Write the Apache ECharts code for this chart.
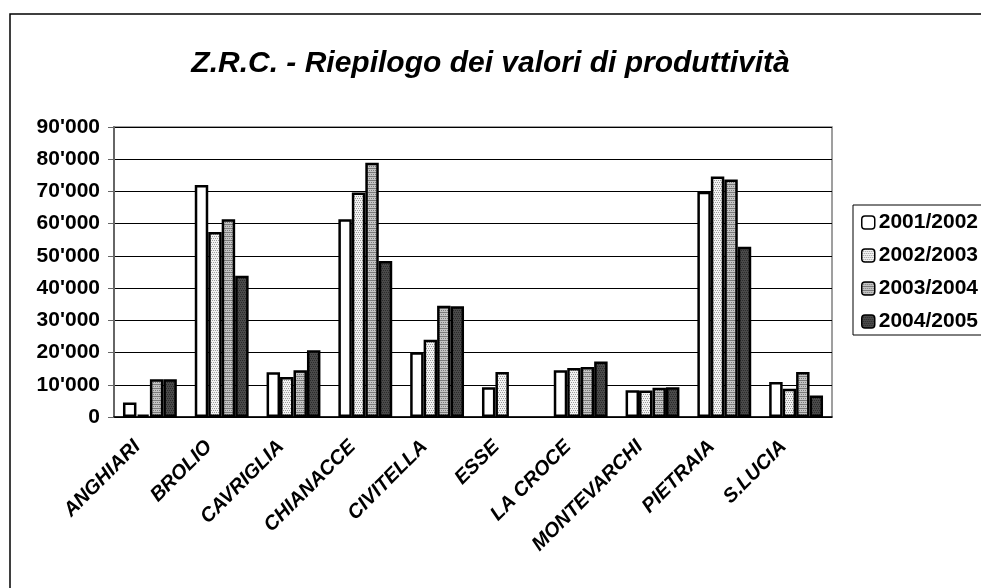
<!DOCTYPE html>
<html>
<head>
<meta charset="utf-8">
<script src="https://cdn.jsdelivr.net/npm/echarts@6/dist/echarts.min.js"></script>
<style>
  html, body { margin: 0; padding: 0; background: #fff; }
  #chart { width: 981px; height: 588px; }
</style>
</head>
<body>
<div id="chart"></div>
<script>
// data
var categories = ['ANGHIARI', 'BROLIO', 'CAVRIGLIA', 'CHIANACCE', 'CIVITELLA', 'ESSE', 'LA CROCE', 'MONTEVARCHI', 'PIETRAIA', 'S.LUCIA'];
var seriesNames = ['2001/2002', '2002/2003', '2003/2004', '2004/2005'];
var v2001 = [4500, 72000, 13900, 61400, 20100, 9200, 14500, 8300, 69900, 10900];
var v2002 = [700, 57400, 12400, 69700, 24000, 14000, 15200, 8200, 74600, 8800];
var v2003 = [11700, 61400, 14500, 78900, 34500, null, 15500, 9100, 73700, 14000];
var v2004 = [11700, 43800, 20700, 48400, 34400, null, 17200, 9200, 52800, 6700];
var yTicks = { min: 0, max: 90000, step: 10000 };

var font = 'Liberation Sans, Arial, sans-serif';

// little canvas patterns, like the excel fills
function pattern(bg, dot, cells) {
    var c = document.createElement('canvas');
    c.width = 4; c.height = 4;
    var ctx = c.getContext('2d');
    ctx.fillStyle = bg;
    ctx.fillRect(0, 0, 4, 4);
    ctx.fillStyle = dot;
    cells.forEach(function (p) { ctx.fillRect(p[0], p[1], 1, 1); });
    return { image: c, repeat: 'repeat' };
}

var fills = [
    '#ffffff',
    pattern('#f2f2f2', '#9a9a9a', [[0, 0], [2, 0], [1, 2], [3, 2]]),
    pattern('#c4c4c4', '#7a7a7a', [[0, 0], [1, 0], [2, 0], [3, 0], [1, 2], [3, 2]]),
    pattern('#4a4a4a', '#2a2a2a', [[0, 0], [2, 0], [1, 2], [3, 2]])
];
var values = [v2001, v2002, v2003, v2004];

function fmt(v) {
    return String(v).replace(/\B(?=(\d{3})+(?!\d))/g, "'");
}

var chart = echarts.init(document.getElementById('chart'));

chart.setOption({
    animation: false,
    backgroundColor: '#fff',
    title: {
        text: 'Z.R.C. - Riepilogo dei valori di produttività',
        left: 'center',
        top: 44,
        textStyle: { fontFamily: font, fontSize: 30, fontWeight: 'bold', fontStyle: 'italic', color: '#000' }
    },
    graphic: [{
        type: 'rect',
        shape: { x: 10, y: 14, width: 1000, height: 600 },
        style: { fill: 'none', stroke: '#000', lineWidth: 1.5 },
        silent: true
    }],
    legend: {
        orient: 'vertical',
        left: 853,
        top: 205,
        padding: [7, 40, 3, 8],
        itemGap: 12,
        itemWidth: 13,
        itemHeight: 13,
        borderColor: '#000',
        borderWidth: 1,
        data: seriesNames,
        itemStyle: { borderColor: '#000', borderWidth: 1.5 },
        textStyle: { fontFamily: font, fontSize: 21, fontWeight: 'bold', color: '#000', padding: [0, 0, 0, -1] }
    },
    grid: {
        left: 114,
        right: 149,
        top: 127,
        bottom: 171,
        show: true,
        borderColor: '#808080',
        borderWidth: 1.5
    },
    xAxis: {
        type: 'category',
        data: categories,
        axisLine: { lineStyle: { color: '#000', width: 1.5 } },
        axisTick: { length: 5, lineStyle: { color: '#555' } },
        axisLabel: {
            rotate: 45,
            margin: 14,
            padding: [0, 18, 0, 0],
            interval: 0,
            fontFamily: font,
            fontSize: 20,
            fontWeight: 'bold',
            fontStyle: 'italic',
            color: '#000'
        }
    },
    yAxis: {
        type: 'value',
        min: yTicks.min,
        max: yTicks.max,
        interval: yTicks.step,
        axisLine: { show: true, lineStyle: { color: '#666', width: 2 } },
        axisTick: { show: true, length: 6, lineStyle: { color: '#666' } },
        splitLine: { lineStyle: { color: '#000', width: 1 } },
        axisLabel: {
            margin: 14,
            formatter: fmt,
            fontFamily: font,
            fontSize: 21,
            fontWeight: 'bold',
            color: '#000'
        }
    },
    series: seriesNames.map(function (name, i) {
        return {
            name: name,
            type: 'bar',
            data: values[i],
            barGap: '0%',
            barCategoryGap: '25%',
            itemStyle: { color: fills[i], borderColor: '#000', borderWidth: 2.5 }
        };
    })
});
</script>
</body>
</html>
